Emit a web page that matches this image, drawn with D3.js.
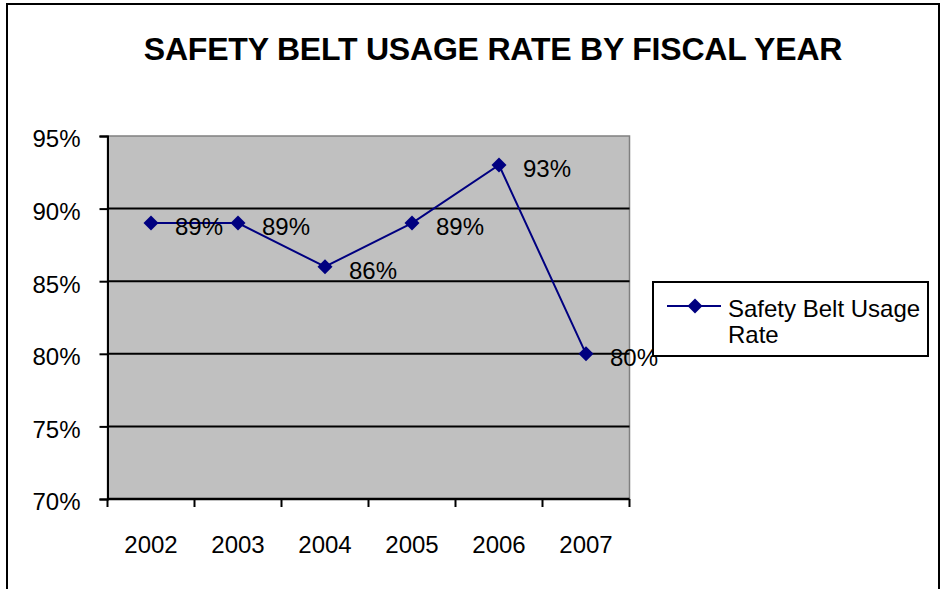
<!DOCTYPE html>
<html>
<head>
<meta charset="utf-8">
<script src="https://cdn.jsdelivr.net/npm/d3@7"></script>
<style>
  body { margin: 0; background: #fff; }
  svg { display: block; font-family: "Liberation Sans", Arial, sans-serif; }
</style>
</head>
<body>
<script>
const years = ["2002", "2003", "2004", "2005", "2006", "2007"];
const usageRate = [89, 89, 86, 89, 93, 80];
const yTicks = [70, 75, 80, 85, 90, 95];
const seriesName = ["Safety Belt Usage", "Rate"];

const width = 943;
const height = 589;
const plot = { left: 107.5, right: 629.5, top: 136, bottom: 499 };

const svg = d3.select("body")
  .append("svg")
  .attr("width", width)
  .attr("height", height);

// outer chart frame
svg.append("rect")
  .attr("x", 7)
  .attr("y", 4)
  .attr("width", 932)
  .attr("height", 600)
  .attr("fill", "#fff")
  .attr("stroke", "#000")
  .attr("stroke-width", 2);

// title
svg.append("text")
  .attr("x", 493)
  .attr("y", 60)
  .attr("text-anchor", "middle")
  .attr("font-size", 32)
  .attr("font-weight", "bold")
  .attr("letter-spacing", -0.2)
  .text("SAFETY BELT USAGE RATE BY FISCAL YEAR");

const x = d3.scaleBand()
  .domain(years)
  .range([plot.left, plot.right]);

const y = d3.scaleLinear()
  .domain([70, 95])
  .range([plot.bottom, plot.top]);

// plot area
svg.append("rect")
  .attr("x", plot.left)
  .attr("y", plot.top)
  .attr("width", plot.right - plot.left)
  .attr("height", plot.bottom - plot.top)
  .attr("fill", "#c0c0c0")
  .attr("stroke", "#808080")
  .attr("stroke-width", 1.5);

// gridlines
svg.append("g")
  .selectAll("line")
  .data(yTicks.filter((t) => t > 70 && t < 95))
  .enter()
  .append("line")
  .attr("x1", plot.left)
  .attr("x2", plot.right)
  .attr("y1", (d) => y(d))
  .attr("y2", (d) => y(d))
  .attr("stroke", "#000")
  .attr("stroke-width", 2);

// y axis
const yAxis = svg.append("g")
  .attr("transform", `translate(${plot.left},0)`)
  .call(d3.axisLeft(y).tickValues(yTicks).tickSize(8).tickPadding(19)
    .tickFormat((d) => d + "%"));
yAxis.select(".domain").attr("stroke", "#000").attr("stroke-width", 2);
yAxis.selectAll(".tick line").attr("stroke", "#000").attr("stroke-width", 2);
yAxis.selectAll("text")
  .attr("font-size", 24)
  .attr("fill", "#000")
  .attr("font-family", "Liberation Sans, Arial, sans-serif")
  .attr("dy", "0.45em");

// x axis with ticks between categories
const xAxis = svg.append("g")
  .attr("transform", `translate(0,${plot.bottom})`);
xAxis.append("line")
  .attr("x1", plot.left)
  .attr("x2", plot.right)
  .attr("stroke", "#000")
  .attr("stroke-width", 2.5);
const bounds = years.map((d) => x(d)).concat([x(years[years.length - 1]) + x.bandwidth()]);
xAxis.selectAll(".tk")
  .data(bounds)
  .enter()
  .append("line")
  .attr("x1", (d) => d)
  .attr("x2", (d) => d)
  .attr("y1", 0)
  .attr("y2", 8)
  .attr("stroke", "#000")
  .attr("stroke-width", 2);
xAxis.selectAll("text")
  .data(years)
  .enter()
  .append("text")
  .attr("x", (d) => x(d) + x.bandwidth() / 2)
  .attr("y", 54)
  .attr("text-anchor", "middle")
  .attr("font-size", 24)
  .text((d) => d);

// series
const cx = (i) => x(years[i]) + x.bandwidth() / 2;
const line = d3.line()
  .x((d, i) => cx(i))
  .y((d) => y(d));

svg.append("path")
  .datum(usageRate)
  .attr("d", line)
  .attr("fill", "none")
  .attr("stroke", "#000080")
  .attr("stroke-width", 2);

const diamond = "M0,-7.5L7.5,0L0,7.5L-7.5,0Z";
svg.append("g")
  .selectAll("path")
  .data(usageRate)
  .enter()
  .append("path")
  .attr("d", diamond)
  .attr("transform", (d, i) => `translate(${cx(i)},${y(d)})`)
  .attr("fill", "#000080");

// data labels
svg.append("g")
  .selectAll("text")
  .data(usageRate)
  .enter()
  .append("text")
  .attr("x", (d, i) => cx(i) + 24)
  .attr("y", (d) => y(d) + 12)
  .attr("font-size", 24)
  .text((d) => d + "%");

// legend
const legend = svg.append("g");
legend.append("rect")
  .attr("x", 653)
  .attr("y", 282)
  .attr("width", 275)
  .attr("height", 74)
  .attr("fill", "#fff")
  .attr("stroke", "#000")
  .attr("stroke-width", 2);
legend.append("line")
  .attr("x1", 667)
  .attr("x2", 721)
  .attr("y1", 306)
  .attr("y2", 306)
  .attr("stroke", "#000080")
  .attr("stroke-width", 2);
legend.append("path")
  .attr("d", diamond)
  .attr("transform", "translate(695,306)")
  .attr("fill", "#000080");
legend.selectAll("text")
  .data(seriesName)
  .enter()
  .append("text")
  .attr("x", 728)
  .attr("y", (d, i) => 317 + i * 26)
  .attr("font-size", 24)
  .text((d) => d);
</script>
</body>
</html>
